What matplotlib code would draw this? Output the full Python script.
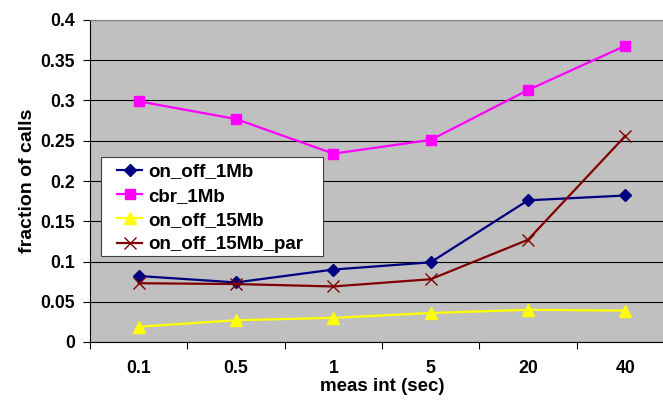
import matplotlib
matplotlib.use("Agg")
import matplotlib.pyplot as plt
from matplotlib.patches import Rectangle
from matplotlib.ticker import FixedLocator, NullFormatter

plt.rcParams['font.family'] = ['Liberation Sans', 'DejaVu Sans']
plt.rcParams['font.weight'] = 'bold'

intervals = ["0.1", "0.5", "1", "5", "20", "40"]
on_off_1Mb = [0.082, 0.074, 0.090, 0.099, 0.176, 0.182]
cbr_1Mb = [0.299, 0.277, 0.234, 0.251, 0.313, 0.368]
on_off_15Mb = [0.019, 0.027, 0.030, 0.036, 0.040, 0.039]
on_off_15Mb_par = [0.073, 0.072, 0.069, 0.078, 0.127, 0.256]

W, H = 663, 403
fig = plt.figure(figsize=(W / 100, H / 100), dpi=100)
ax = fig.add_axes([90 / W, (H - 342) / H, (674 - 90) / W, (342 - 20) / H])
ax.set_facecolor("#C0C0C0")

x = list(range(len(intervals)))
ax.plot(x, on_off_1Mb, color="#000080", lw=1.6, marker="D", ms=6,
        label="on_off_1Mb", zorder=5)
ax.plot(x, cbr_1Mb, color="#FF00FF", lw=1.6, marker="s", ms=7,
        label="cbr_1Mb", zorder=5)
ax.plot(x, on_off_15Mb, color="#FFFF00", lw=1.6, marker="^", ms=8,
        label="on_off_15Mb", zorder=5)
ax.plot(x, on_off_15Mb_par, color="#800000", lw=1.6, marker="x", ms=8,
        mew=1.0, label="on_off_15Mb_par", zorder=5)

ax.set_xlim(-0.5, len(intervals) - 0.5)
ax.set_ylim(0, 0.4)

yt = [i * 0.05 for i in range(9)]
ax.set_yticks(yt)
ax.set_yticklabels(["0", "0.05", "0.1", "0.15", "0.2", "0.25", "0.3", "0.35", "0.4"])
ax.yaxis.grid(True, color="black", lw=0.8)
ax.set_axisbelow(True)

# category boundaries carry the tick marks, category centres carry the labels
ax.xaxis.set_major_locator(FixedLocator([i - 0.5 for i in range(len(intervals) + 1)]))
ax.xaxis.set_major_formatter(NullFormatter())
ax.xaxis.set_minor_locator(FixedLocator(x))
ax.set_xticklabels(intervals, minor=True)
ax.tick_params(axis="x", which="major", length=5, width=0.8, direction="out")
ax.tick_params(axis="x", which="minor", length=0, pad=13, labelsize=12.7)
ax.tick_params(axis="y", length=5, width=0.8, direction="out", pad=6, labelsize=12.7)

for s in ["left", "bottom"]:
    ax.spines[s].set_color("black")
    ax.spines[s].set_linewidth(0.8)
ax.spines["top"].set_color("#808080")
ax.spines["right"].set_color("#808080")

ax.set_xlabel("meas int (sec)", fontsize=13.5, fontweight="bold", labelpad=1)
ax.set_ylabel("fraction of calls", fontsize=14, fontweight="bold", labelpad=3)

# legend box with generous side padding
box = Rectangle((0.0188, 0.267), 0.380, 0.3075, transform=ax.transAxes,
                facecolor="white", edgecolor="#404040", lw=0.8, zorder=6)
ax.add_patch(box)
leg = ax.legend(loc="upper left", bbox_to_anchor=(0.046, 0.555), fontsize=13.5,
                frameon=False, handlelength=1.35, handletextpad=0.3,
                labelspacing=0.38, borderpad=0, borderaxespad=0)
leg.set_zorder(7)

fig.savefig("out.png", dpi=100)
